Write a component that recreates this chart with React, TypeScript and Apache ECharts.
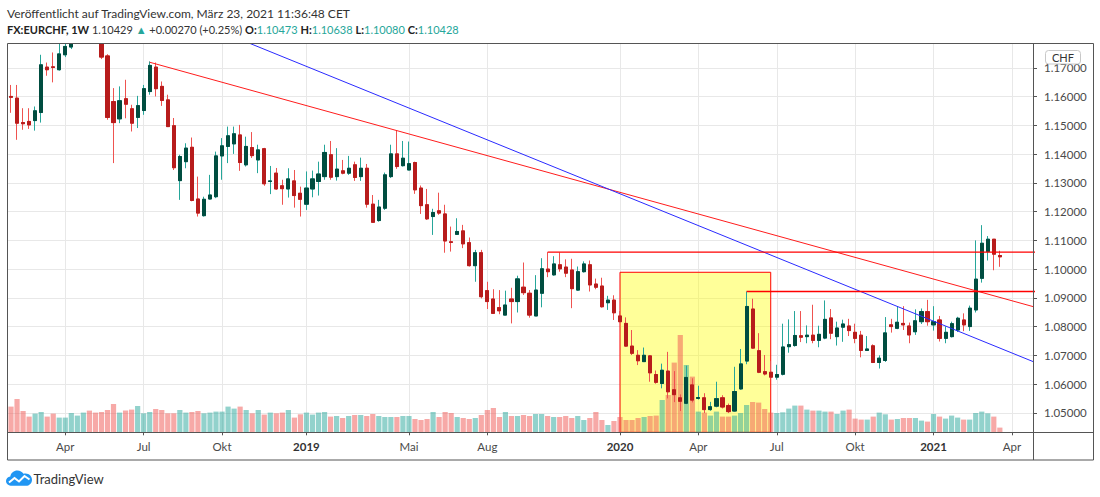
import React, { useEffect, useRef } from "react";
import * as echarts from "echarts";

// FX:EURCHF weekly bars, the first one is the week of 2018-01-29
const FIRST_WEEK = "2018-01-29";
const EMPTY_WEEKS_RIGHT = 5;

const OPEN = [
  1.1601, 1.1595, 1.1510, 1.1514, 1.1517, 1.1545, 1.1703, 1.1704, 1.1694, 1.1746,
  1.1773, 1.1830, 1.1985, 1.1995, 1.1960, 1.1930, 1.1742, 1.1583, 1.1523, 1.1593,
  1.1558, 1.1528, 1.1552, 1.1618, 1.1703, 1.1636, 1.1589, 1.1499, 1.1308, 1.1374,
  1.1424, 1.1244, 1.1186, 1.1244, 1.1252, 1.1394, 1.1427, 1.1436, 1.1467, 1.1363,
  1.1423, 1.1380, 1.1419, 1.1305, 1.1334, 1.1290, 1.1279, 1.1307, 1.1264, 1.1226,
  1.1279, 1.1305, 1.1322, 1.1398, 1.1322, 1.1342, 1.1334, 1.1363, 1.1322, 1.1351,
  1.1226, 1.1169, 1.1212, 1.1322, 1.1401, 1.1360, 1.1345, 1.1371, 1.1282, 1.1224,
  1.1183, 1.1203, 1.1192, 1.1095, 1.1121, 1.1133, 1.1092, 1.1012, 1.1057, 1.0925,
  1.0896, 1.0866, 1.0840, 1.0896, 1.0887, 1.0937, 1.0916, 1.0837, 1.0916, 1.1000,
  1.0980, 1.1015, 1.1007, 1.0997, 1.0927, 1.0991, 1.1015, 1.0948, 1.0941, 1.0883,
  1.0892, 1.0837, 1.0811, 1.0732, 1.0700, 1.0678, 1.0698, 1.0633, 1.0602, 1.0645,
  1.0580, 1.0552, 1.0533, 1.0597, 1.0550, 1.0552, 1.0511, 1.0523, 1.0552, 1.0525,
  1.0506, 1.0583, 1.0680, 1.0861, 1.0716, 1.0643, 1.0641, 1.0624, 1.0634, 1.0730,
  1.0734, 1.0768, 1.0765, 1.0770, 1.0752, 1.0760, 1.0830, 1.0765, 1.0798, 1.0802,
  1.0780, 1.0770, 1.0717, 1.0733, 1.0675, 1.0682, 1.0806, 1.0794, 1.0811, 1.0802,
  1.0782, 1.0817, 1.0852, 1.0806, 1.0823, 1.0759, 1.0765, 1.0788, 1.0823, 1.0800,
  1.0858, 1.0968, 1.1061, 1.1104, 1.10473,
];

const HIGH = [
  1.1641, 1.1641, 1.1560, 1.1560, 1.1566, 1.1746, 1.1719, 1.1754, 1.1790, 1.1795,
  1.1850, 1.2000, 1.2005, 1.2000, 1.1975, 1.1940, 1.1748, 1.1630, 1.1636, 1.1659,
  1.1572, 1.1603, 1.1641, 1.1723, 1.1719, 1.1653, 1.1607, 1.1526, 1.1398, 1.1438,
  1.1458, 1.1322, 1.1252, 1.1328, 1.1409, 1.1456, 1.1496, 1.1496, 1.1502, 1.1461,
  1.1477, 1.1433, 1.1422, 1.1359, 1.1352, 1.1311, 1.1351, 1.1345, 1.1287, 1.1340,
  1.1343, 1.1374, 1.1433, 1.1446, 1.1421, 1.1380, 1.1394, 1.1374, 1.1388, 1.1366,
  1.1258, 1.1241, 1.1336, 1.1433, 1.1481, 1.1446, 1.1444, 1.1374, 1.1291, 1.1279,
  1.1210, 1.1266, 1.1224, 1.1148, 1.1177, 1.1154, 1.1110, 1.1067, 1.1067, 1.0956,
  1.0930, 1.0927, 1.0925, 1.0935, 1.0977, 1.1023, 1.0927, 1.0979, 1.1038, 1.1059,
  1.1045, 1.1058, 1.1034, 1.1036, 1.1009, 1.1027, 1.1030, 1.0967, 1.0970, 1.0907,
  1.0909, 1.0854, 1.0832, 1.0788, 1.0718, 1.0727, 1.0701, 1.0647, 1.0671, 1.0712,
  1.0645, 1.0564, 1.0664, 1.0620, 1.0594, 1.0568, 1.0538, 1.0608, 1.0561, 1.0532,
  1.0660, 1.0722, 1.0922, 1.0897, 1.0777, 1.0701, 1.0680, 1.0667, 1.0810, 1.0825,
  1.0854, 1.0854, 1.0804, 1.0876, 1.0803, 1.0891, 1.0861, 1.0817, 1.0824, 1.0827,
  1.0810, 1.0785, 1.0767, 1.0738, 1.0700, 1.0833, 1.0827, 1.0871, 1.0871, 1.0814,
  1.0860, 1.0863, 1.0893, 1.0871, 1.0837, 1.0801, 1.0817, 1.0834, 1.0846, 1.0873,
  1.1100, 1.1153, 1.1115, 1.1104, 1.10638,
];

const LOW = [
  1.1544, 1.1450, 1.1485, 1.1488, 1.1482, 1.1510, 1.1673, 1.1650, 1.1691, 1.1738,
  1.1766, 1.1820, 1.1940, 1.1930, 1.1890, 1.1731, 1.1520, 1.1369, 1.1508, 1.1525,
  1.1479, 1.1491, 1.1537, 1.1607, 1.1601, 1.1568, 1.1495, 1.1345, 1.1241, 1.1351,
  1.1236, 1.1183, 1.1183, 1.1243, 1.1247, 1.1311, 1.1369, 1.1401, 1.1342, 1.1357,
  1.1387, 1.1334, 1.1290, 1.1261, 1.1276, 1.1224, 1.1249, 1.1214, 1.1183, 1.1206,
  1.1250, 1.1256, 1.1311, 1.1311, 1.1308, 1.1330, 1.1328, 1.1307, 1.1307, 1.1214,
  1.1162, 1.1165, 1.1206, 1.1317, 1.1349, 1.1357, 1.1345, 1.1262, 1.1192, 1.1171,
  1.1119, 1.1189, 1.1057, 1.1061, 1.1119, 1.1073, 1.1009, 1.0956, 1.0898, 1.0861,
  1.0844, 1.0843, 1.0840, 1.0811, 1.0849, 1.0910, 1.0831, 1.0837, 1.0867, 1.0972,
  1.0977, 1.0991, 1.0972, 1.0864, 1.0925, 1.0988, 1.0922, 1.0930, 1.0866, 1.0858,
  1.0823, 1.0815, 1.0730, 1.0701, 1.0666, 1.0678, 1.0608, 1.0601, 1.0585, 1.0550,
  1.0537, 1.0506, 1.0530, 1.0536, 1.0546, 1.0499, 1.0507, 1.0519, 1.0515, 1.0499,
  1.0504, 1.0580, 1.0669, 1.0723, 1.0638, 1.0630, 1.0620, 1.0615, 1.0630, 1.0709,
  1.0730, 1.0746, 1.0742, 1.0742, 1.0728, 1.0756, 1.0756, 1.0734, 1.0747, 1.0767,
  1.0742, 1.0693, 1.0715, 1.0673, 1.0654, 1.0677, 1.0779, 1.0791, 1.0788, 1.0742,
  1.0771, 1.0809, 1.0803, 1.0786, 1.0748, 1.0742, 1.0762, 1.0781, 1.0784, 1.0785,
  1.0849, 1.0953, 1.1030, 1.0996, 1.10080,
];

const CLOSE = [
  1.1598, 1.1508, 1.1506, 1.1502, 1.1551, 1.1711, 1.1694, 1.1702, 1.1749, 1.1775,
  1.1830, 1.1985, 1.1995, 1.1960, 1.1930, 1.1738, 1.1528, 1.1510, 1.1586, 1.1574,
  1.1508, 1.1569, 1.1628, 1.1709, 1.1628, 1.1587, 1.1496, 1.1353, 1.1392, 1.1421,
  1.1239, 1.1195, 1.1243, 1.1258, 1.1394, 1.1429, 1.1464, 1.1471, 1.1371, 1.1427,
  1.1395, 1.1415, 1.1297, 1.1307, 1.1279, 1.1280, 1.1314, 1.1256, 1.1243, 1.1282,
  1.1314, 1.1331, 1.1406, 1.1320, 1.1348, 1.1334, 1.1351, 1.1319, 1.1351, 1.1226,
  1.1163, 1.1216, 1.1328, 1.1401, 1.1357, 1.1386, 1.1367, 1.1276, 1.1221, 1.1175,
  1.1197, 1.1195, 1.1098, 1.1093, 1.1131, 1.1088, 1.1012, 1.1057, 1.0904, 1.0887,
  1.0846, 1.0855, 1.0875, 1.0887, 1.0966, 1.0918, 1.0840, 1.0927, 1.1001, 1.0991,
  1.1018, 1.1001, 1.0986, 1.0932, 1.0991, 1.1018, 1.0945, 1.0937, 1.0869, 1.0892,
  1.0848, 1.0817, 1.0732, 1.0707, 1.0681, 1.0700, 1.0639, 1.0606, 1.0648, 1.0573,
  1.0563, 1.0540, 1.0623, 1.0544, 1.0553, 1.0511, 1.0521, 1.0549, 1.0520, 1.0504,
  1.0574, 1.0670, 1.0870, 1.0725, 1.0641, 1.0635, 1.0624, 1.0633, 1.0729, 1.0737,
  1.0769, 1.0763, 1.0770, 1.0752, 1.0773, 1.0825, 1.0777, 1.0795, 1.0809, 1.0786,
  1.0759, 1.0717, 1.0722, 1.0675, 1.0690, 1.0778, 1.0800, 1.0815, 1.0806, 1.0771,
  1.0820, 1.0852, 1.0817, 1.0817, 1.0759, 1.0780, 1.0810, 1.0829, 1.0806, 1.0864,
  1.0965, 1.1090, 1.1104, 1.1052, 1.10428,
];

// tick volume, thousands
const VOLUME = [
  257, 333, 213, 157, 187, 203, 157, 187, 147, 147,
  193, 167, 197, 217, 197, 203, 223, 283, 197, 217,
  227, 263, 190, 203, 233, 223, 190, 190, 223, 197,
  203, 213, 190, 197, 207, 207, 257, 237, 257, 223,
  190, 223, 177, 197, 190, 197, 223, 147, 180, 197,
  177, 197, 203, 157, 163, 143, 163, 173, 173, 163,
  183, 163, 153, 153, 153, 163, 163, 133, 123, 133,
  203, 153, 203, 193, 153, 143, 133, 143, 173, 223,
  243, 153, 203, 163, 163, 173, 163, 183, 183, 163,
  153, 153, 163, 143, 163, 123, 143, 203, 123, 73,
  113, 153, 123, 123, 143, 153, 163, 167, 323, 373,
  697, 973, 673, 557, 207, 197, 167, 207, 157, 157,
  167, 193, 273, 303, 297, 233, 197, 193, 200, 237,
  267, 267, 227, 217, 217, 207, 207, 183, 217, 227,
  137, 127, 127, 157, 197, 180, 127, 133, 143, 143,
  143, 117, 107, 183, 157, 137, 167, 147, 127, 127,
  193, 207, 190, 157, 47,
];

const TICK_DATES = [
  "2018-04-02", "2018-07-02", "2018-10-01", "2019-01-07", "2019-05-06", "2019-08-05",
  "2020-01-06", "2020-04-06", "2020-07-06", "2020-10-05", "2021-01-04", "2021-04-05",
];
const TICK_TEXT = ["Apr", "Jul", "Okt", "2019", "Mai", "Aug", "2020", "Apr", "Jul", "Okt", "2021", "Apr"];

const PRICE_MIN = 1.0432;
const PRICE_MAX = 1.1787;

// drawings: [week, price]
const RED_TREND = [["2018-07-09", 1.172], ["2019-04-22", 1.1482]];
const BLUE_TREND = [["2018-04-23", 1.2021], ["2020-12-07", 1.0853]];
const LEVEL_OCT19 = ["2019-10-14", 1.1059];
const LEVEL_JUN20 = ["2020-06-01", 1.0922];
const BOX = { from: "2020-01-06", to: "2020-06-29", top: 1.0989 };

const HEADER_1 = "Veröffentlicht auf TradingView.com, März 23, 2021 11:36:48 CET";
const HEADER_2 =
  "{b|FX:EURCHF, 1W} {n|1.10429} {v|▲} {n|+0.00270 (+0.25%)} {b|O:}{v|1.10473} {b|H:}{v|1.10638} {b|L:}{v|1.10080} {b|C:}{v|1.10428}";

const UP_BODY = "#004d40";
const DOWN_BODY = "#b71c1c";
const UP_WICK = "#26a69a";
const DOWN_WICK = "#ef5350";
const FONT = "Lato";

const WEEK_MS = 7 * 24 * 3600 * 1000;
const t0 = Date.parse(FIRST_WEEK + "T00:00:00Z");
const WEEKS = Array.from({ length: OPEN.length + EMPTY_WEEKS_RIGHT }, (_, i) =>
  new Date(t0 + i * WEEK_MS).toISOString().slice(0, 10)
);
const FAR_RIGHT = WEEKS.length + 6;

const TV_LOGO =
  "M6 16C2.7 16 0 13.8 0 11C0 8.6 1.8 6.7 4.3 6.2C4.9 2.7 7.8 0 11.4 0C14 0 16.3 1.4 17.5 3.5C18.2 3.3 18.9 3.2 19.6 3.2C23.1 3.2 26 6.1 26 9.6C26 13.1 23.3 16 20 16Z";
echarts.graphic.registerShape("tvlogo", echarts.graphic.extendPath(TV_LOGO, {}));

const isTick = (_: number, v: string) => TICK_DATES.includes(v);

// line through two anchors, extended past the right edge (clipped by the grid)
function ray(a: any[], b: any[]) {
  const ia = WEEKS.indexOf(a[0]);
  const ib = WEEKS.indexOf(b[0]);
  const k = (b[1] - a[1]) / (ib - ia);
  return [
    [ia, a[1]],
    [FAR_RIGHT, a[1] + k * (FAR_RIGHT - ia)],
  ];
}

function level(a: any[]) {
  return [
    [WEEKS.indexOf(a[0]), a[1]],
    [FAR_RIGHT, a[1]],
  ];
}

function drawing(data: any[], color: string, width: number) {
  return {
    type: "line",
    data,
    z: 6,
    symbol: "none",
    silent: true,
    clip: true,
    lineStyle: { color, width },
  };
}

export default function App() {
  const ref = useRef<HTMLDivElement>(null);

  useEffect(() => {
    if (!ref.current) return;
    const chart = echarts.init(ref.current, null, { renderer: "svg" });

    const candles = OPEN.map((o, i) => [o, CLOSE[i], LOW[i], HIGH[i]]);
    const bodies = OPEN.map((o, i) => [o, CLOSE[i], Math.min(o, CLOSE[i]), Math.max(o, CLOSE[i])]);
    const volumes = VOLUME.map((v, i) => ({
      value: v,
      itemStyle: { color: CLOSE[i] >= OPEN[i] ? "rgba(38,166,154,0.5)" : "rgba(239,83,80,0.5)" },
    }));

    chart.setOption({
      animation: false,
      textStyle: { fontFamily: FONT },
      grid: { left: 8, top: 43, width: 1025, height: 389.3 },
      xAxis: {
        type: "category",
        data: WEEKS,
        boundaryGap: true,
        axisLine: { show: false },
        axisTick: { show: true, interval: isTick, alignWithLabel: true, length: 3, lineStyle: { color: "#555" } },
        splitLine: { show: true, interval: isTick, alignWithLabel: true, lineStyle: { color: "#e8e8e8" } },
        axisLabel: {
          interval: isTick,
          margin: 8,
          color: "#4a4a4a",
          fontSize: 11.5,
          fontFamily: FONT,
          formatter: (v: string) => {
            const t = TICK_TEXT[TICK_DATES.indexOf(v)] || "";
            return /^\d{4}$/.test(t) ? `{y|${t}}` : t;
          },
          rich: { y: { fontWeight: "bold", fontSize: 11.5, color: "#333", fontFamily: FONT } },
        },
      },
      yAxis: [
        {
          type: "value",
          position: "right",
          min: PRICE_MIN,
          max: PRICE_MAX,
          splitNumber: 13,
          minInterval: 0.01,
          maxInterval: 0.01,
          axisLine: { show: false },
          axisTick: { show: true, length: 4, lineStyle: { color: "#555" } },
          splitLine: { lineStyle: { color: "#e8e8e8" } },
          axisLabel: {
            margin: 11,
            color: "#4a4a4a",
            fontSize: 11.5,
            fontFamily: FONT,
            showMinLabel: false,
            showMaxLabel: false,
            formatter: (v: number) => v.toFixed(5),
          },
        },
        { type: "value", min: 0, max: 3893, show: false },
      ],
      series: [
        {
          type: "bar",
          yAxisIndex: 1,
          data: volumes,
          barWidth: 5.2,
          z: 2,
          silent: true,
        },
        {
          type: "candlestick",
          data: candles,
          barWidth: 3.6,
          z: 3,
          clip: true,
          silent: true,
          itemStyle: {
            color: UP_BODY,
            color0: DOWN_BODY,
            borderColor: UP_WICK,
            borderColor0: DOWN_WICK,
            borderWidth: 1,
          },
        },
        {
          type: "candlestick",
          data: bodies,
          barWidth: 3.6,
          z: 4,
          clip: true,
          silent: true,
          itemStyle: {
            color: UP_BODY,
            color0: DOWN_BODY,
            borderColor: UP_BODY,
            borderColor0: DOWN_BODY,
            borderWidth: 1,
          },
          markArea: {
            silent: true,
            itemStyle: { color: "rgba(255,255,0,0.4)", borderColor: "#ff0000", borderWidth: 1 },
            data: [[{ coord: [BOX.from, BOX.top] }, { coord: [BOX.to, PRICE_MIN] }]],
          },
        },
        drawing(ray(RED_TREND[0], RED_TREND[1]), "#ff1c1c", 1),
        drawing(ray(BLUE_TREND[0], BLUE_TREND[1]), "#2a2aff", 1),
        drawing(level(LEVEL_OCT19), "#ff0000", 1.3),
        drawing(level(LEVEL_JUN20), "#ff0000", 1.3),
      ],
      graphic: [
        // white band above the plot so nothing spills into the header
        {
          type: "rect",
          z: 25,
          silent: true,
          shape: { x: 0, y: 0, width: 1100, height: 43 },
          style: { fill: "#fff" },
        },
        {
          type: "text",
          z: 26,
          x: 7,
          y: 13,
          style: { text: HEADER_1, fill: "#333", fontSize: 12, fontFamily: FONT, verticalAlign: "middle" },
        },
        {
          type: "text",
          z: 26,
          x: 7,
          y: 29.5,
          style: {
            text: HEADER_2,
            fill: "#333",
            fontSize: 11,
            fontFamily: FONT,
            verticalAlign: "middle",
            rich: {
              b: { fontWeight: "bold", fill: "#222", fontSize: 11, fontFamily: FONT },
              n: { fill: "#333", fontSize: 11, fontFamily: FONT },
              v: { fill: "#26a69a", fontSize: 11, fontFamily: FONT },
            },
          },
        },
        {
          type: "rect",
          z: 20,
          shape: { x: 1045.5, y: 50.5, width: 35, height: 13.5, r: 3 },
          style: { fill: "#fff", stroke: "#c8c8c8", lineWidth: 1 },
        },
        {
          type: "text",
          z: 21,
          x: 1063,
          y: 57.5,
          style: { text: "CHF", fill: "#333", fontSize: 11, fontFamily: FONT, align: "center", verticalAlign: "middle" },
        },
        {
          type: "rect",
          z: 30,
          silent: true,
          shape: { x: 7.5, y: 43.5, width: 1086, height: 416.5 },
          style: { fill: "none", stroke: "#555", lineWidth: 1 },
        },
        {
          type: "line",
          z: 30,
          shape: { x1: 1033.5, y1: 43.5, x2: 1033.5, y2: 460 },
          style: { stroke: "#555", lineWidth: 1 },
        },
        {
          type: "line",
          z: 30,
          shape: { x1: 7.5, y1: 432.5, x2: 1093.5, y2: 432.5 },
          style: { stroke: "#555", lineWidth: 1 },
        },
        {
          type: "group",
          x: 6,
          y: 470.5,
          children: [
            { type: "tvlogo", x: 0, y: 0, scaleX: 1, scaleY: 0.96, style: { fill: "#2196f3" } },
            {
              type: "polyline",
              shape: { points: [[3, 12], [8.5, 7.5], [13, 11], [18.5, 5.5], [23.5, 9]] },
              style: { stroke: "#fff", lineWidth: 2, fill: "none" },
            },
          ],
        },
        {
          type: "text",
          x: 33.5,
          y: 478.5,
          style: { text: "TradingView", fill: "#333", fontSize: 13, fontFamily: FONT, verticalAlign: "middle" },
        },
      ],
    });

    return () => chart.dispose();
  }, []);

  return (
    <div
      ref={ref}
      style={{ position: "absolute", left: 0, top: 0, width: 1100, height: 497, background: "#fff" }}
    />
  );
}
